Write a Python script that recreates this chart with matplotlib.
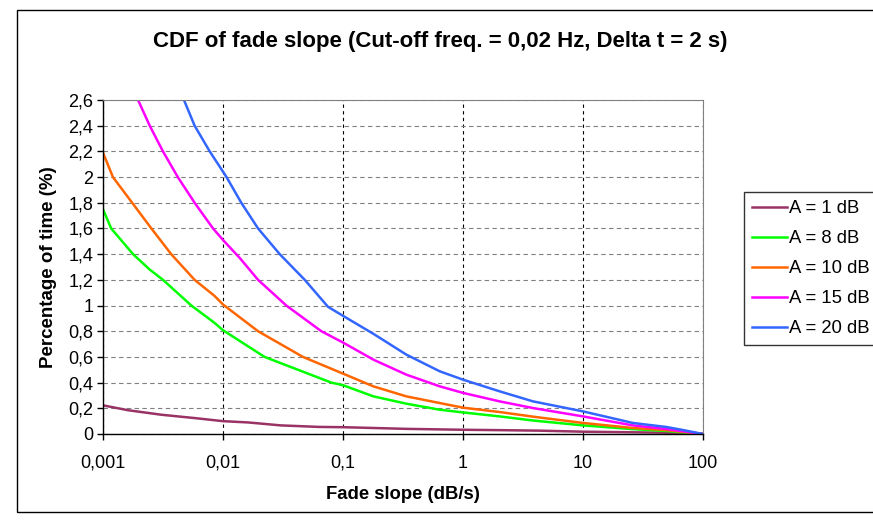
import matplotlib
matplotlib.use("Agg")
import matplotlib.pyplot as plt
from matplotlib.ticker import FixedLocator, FuncFormatter
from matplotlib.patches import Rectangle
import numpy as np

plt.rcParams['font.family'] = ['Liberation Sans', 'DejaVu Sans']

# values
x_a1 = [0.001, 0.00162, 0.00306, 0.0058, 0.01, 0.0162, 0.0303, 0.0635, 0.1, 0.337, 1, 2.0, 4.36, 10, 49.5, 100]
y_a1 = [0.223, 0.185, 0.15, 0.124, 0.1, 0.09, 0.067, 0.055, 0.053, 0.04, 0.033, 0.03, 0.026, 0.018, 0.01, 0.0]

x_a8 = [0.001, 0.00117, 0.00178, 0.00245, 0.00316, 0.00545, 0.0085, 0.01, 0.0222, 0.08, 0.1, 0.179, 0.337, 0.64, 1, 2.02, 3.83, 10, 26, 50, 100]
y_a8 = [1.75, 1.6, 1.4, 1.28, 1.2, 1.0, 0.865, 0.808, 0.6, 0.4, 0.38, 0.293, 0.236, 0.189, 0.168, 0.137, 0.105, 0.067, 0.038, 0.023, 0.0]

x_a10 = [0.001, 0.00121, 0.00175, 0.00253, 0.0037, 0.0058, 0.0085, 0.01, 0.0196, 0.0464, 0.1, 0.179, 0.337, 0.64, 1, 2.02, 3.83, 10, 26, 50, 100]
y_a10 = [2.19, 2.0, 1.8, 1.6, 1.4, 1.2, 1.075, 1.008, 0.8, 0.6, 0.47, 0.371, 0.293, 0.241, 0.205, 0.171, 0.135, 0.086, 0.047, 0.03, 0.0]

x_a15 = [0.00196, 0.00245, 0.00316, 0.0042, 0.0058, 0.00826, 0.01, 0.0138, 0.0196, 0.0337, 0.066, 0.1, 0.179, 0.337, 0.64, 1, 2.02, 3.83, 10, 26, 50, 100]
y_a15 = [2.6, 2.4, 2.2, 2.0, 1.8, 1.6, 1.51, 1.37, 1.2, 1.0, 0.8, 0.712, 0.579, 0.462, 0.371, 0.32, 0.254, 0.202, 0.137, 0.067, 0.038, 0.0]

x_a20 = [0.00473, 0.0058, 0.00775, 0.0107, 0.0142, 0.0196, 0.0297, 0.0396, 0.048, 0.075, 0.1, 0.179, 0.337, 0.64, 1, 2.02, 3.83, 10, 26, 50, 69, 100]
y_a20 = [2.6, 2.4, 2.2, 2.0, 1.8, 1.6, 1.4, 1.28, 1.2, 0.99, 0.92, 0.78, 0.618, 0.488, 0.423, 0.332, 0.254, 0.176, 0.086, 0.054, 0.03, 0.0]

labels = ["A = 1 dB", "A = 8 dB", "A = 10 dB", "A = 15 dB", "A = 20 dB"]
colors = ["#993366", "#00FF00", "#FF6600", "#FF00FF", "#3366FF"]
series = [(x_a1, y_a1), (x_a8, y_a8), (x_a10, y_a10), (x_a15, y_a15), (x_a20, y_a20)]

x_ticks = [0.001, 0.01, 0.1, 1, 10, 100]
y_ticks = np.round(np.arange(0, 2.61, 0.2), 1)

W, H = 873, 523
fig = plt.figure(figsize=(W / 100, H / 100), dpi=100)
fig.patch.set_facecolor("white")
# outer chart frame (right edge runs past the image)
fig.patches.append(Rectangle((17 / W, 1 - 512 / H), (W + 20) / W, (512 - 10) / H,
                             transform=fig.transFigure, fill=False, edgecolor="black", lw=1))

ax = fig.add_axes([103 / W, 89 / H, 600 / W, 334 / H])
for (xs, ys), lab, c in zip(series, labels, colors):
    ax.plot(xs, ys, color=c, lw=1.8, label=lab)

ax.set_xscale("log")
ax.set_xlim(0.001, 100)
ax.set_ylim(0, 2.6)
ax.xaxis.set_major_locator(FixedLocator(x_ticks))
ax.xaxis.set_minor_locator(FixedLocator([]))
ax.yaxis.set_major_locator(FixedLocator(y_ticks))

def comma_fmt(v, pos):
    s = ("%.3f" % v).rstrip("0").rstrip(".")
    return s.replace(".", ",")

ax.xaxis.set_major_formatter(FuncFormatter(comma_fmt))
ax.yaxis.set_major_formatter(FuncFormatter(comma_fmt))

ax.yaxis.grid(True, color="#808080", ls=(0, (4, 3)), lw=0.8)
ax.xaxis.grid(True, color="black", ls=(0, (3, 3)), lw=0.8)
ax.set_axisbelow(True)

for s in ["top", "right"]:
    ax.spines[s].set_color("#808080")
for s in ["left", "bottom"]:
    ax.spines[s].set_color("black")
    ax.spines[s].set_linewidth(1.0)

ax.tick_params(axis="both", direction="out", length=4, width=1, labelsize=13, colors="black")
ax.tick_params(axis="x", pad=11)
ax.tick_params(axis="y", pad=3)

ax.set_xlabel("Fade slope (dB/s)", fontsize=13.3, fontweight="bold", labelpad=10)
ax.set_ylabel("Percentage of time (%)", fontsize=13.5, fontweight="bold", labelpad=8)

fig.text(440 / W, 1 - 42 / H, "CDF of fade slope (Cut-off freq. = 0,02 Hz, Delta t = 2 s)",
         ha="center", va="center", fontsize=16, fontweight="bold")

leg = fig.legend(loc="upper left", bbox_to_anchor=(744 / W, 1 - 192 / H), frameon=True,
                 fontsize=13.3, handlelength=1.9, handletextpad=0.1, borderpad=0.45,
                 labelspacing=0.7, fancybox=False, borderaxespad=0)
leg.get_frame().set_edgecolor("black")
leg.get_frame().set_linewidth(1.0)

fig.savefig("out.png", dpi=100)
